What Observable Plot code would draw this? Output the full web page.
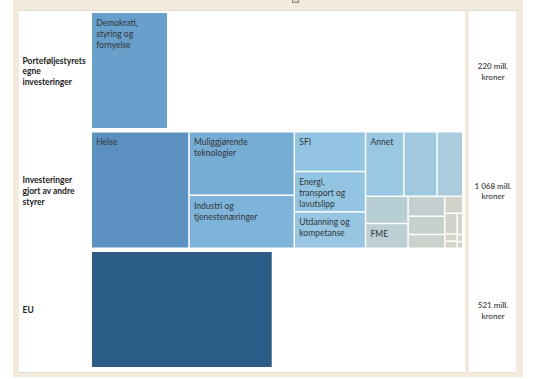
<!DOCTYPE html>
<html>
<head>
<meta charset="utf-8">
<script src="https://cdn.jsdelivr.net/npm/d3@7"></script>
<script src="https://cdn.jsdelivr.net/npm/@observablehq/plot@0.6"></script>
<style>
  html, body { margin: 0; padding: 0; background: #fff; }
  body { width: 536px; height: 379px; overflow: hidden; position: relative; font-family: Lato, sans-serif; }
  #frame { position: absolute; left: 13px; top: 0; width: 510px; height: 377px; background: #f2ebdb; }
  #main { position: absolute; left: 19px; top: 10px; width: 446px; height: 361px; background: #fff; border-top: 1px solid #e2ddd3; box-shadow: 0 1px 0 #e4dfd5; }
  #side { position: absolute; left: 469px; top: 10px; width: 47px; height: 361px; background: #fff; border-top: 1px solid #e2ddd3; box-shadow: 0 1px 0 #e4dfd5; }
  #handle { position: absolute; left: 292px; top: -2px; width: 5px; height: 3px; border: 1px solid #8f8a82; background: #d9d3c7; }
  #chart { position: absolute; left: 0; top: 0; }
</style>
</head>
<body>
<div id="frame"></div>
<div id="main"></div>
<div id="side"></div>
<div id="handle"></div>
<div id="chart"></div>
<script>
// ---- data ----
const rowLabels = ["Porteføljestyrets\negne\ninvesteringer", "Investeringer\ngjort av andre\nstyrer", "EU"];
const rowTotals = [220, 1068, 521];

const cellRows = [0,
  1, 1, 1, 1, 1, 1, 1, 1, 1, 1, 1, 1, 1, 1, 1, 1, 1, 1, 1, 1, 1,
  2];
const cellLabels = ["Demokrati,\nstyring og\nfornyelse",
  "Helse", "Muliggjørende\nteknologier", "Industri og\ntjenestenæringer",
  "SFI", "Energi,\ntransport og\nlavutslipp", "Utdanning og\nkompetanse",
  "Annet", "", "",
  "", "FME",
  "", "", "",
  "", "", "", "", "", "", "",
  ""];
// nesting of the treemap cells (group path inside each row)
const cellGroups = ["",
  "", "a", "a",
  "b", "b", "b",
  "c/top", "c/top", "c/top",
  "c/bot/k1", "c/bot/k1",
  "c/bot/k2", "c/bot/k2", "c/bot/k2",
  "c/bot/k3", "c/bot/k3/m/n1", "c/bot/k3/m/n1", "c/bot/k3/m/n1", "c/bot/k3/m/n2", "c/bot/k3/m/n2", "c/bot/k3/m/n2",
  ""];
const cellValues = [220,
  281, 165, 138,
  70, 71, 64,
  61, 53, 41,
  28.5, 26,
  18, 16.5, 12.5,
  7.5, 6.4, 2.2, 2.2, 2.9, 1, 0.9,
  521];

// ---- layout (treemap per row) ----
const band = 116.5 / 119.5;
const nf = d3.formatLocale({decimal: ",", thousands: "\u00a0", grouping: [3], currency: ["", ""]}).format(",");

function layoutRow(r) {
  const nodes = [{id: "root"}];
  const seen = new Set();
  cellRows.forEach((row, i) => {
    if (row !== r) return;
    let parent = "root";
    const parts = cellGroups[i] ? cellGroups[i].split("/") : [];
    parts.forEach(p => {
      const id = parent + "/" + p;
      if (!seen.has(id)) { seen.add(id); nodes.push({id, parent}); }
      parent = id;
    });
    nodes.push({id: parent + "/#" + i, parent, i});
  });
  const root = d3.stratify().id(d => d.id).parentId(d => d.parent)(nodes)
    .sum(d => d.i !== undefined ? cellValues[d.i] : 0);
  d3.treemap().tile(d3.treemapSliceDice).size([rowTotals[r], 1]).round(false)(root);
  return root.leaves().map(l => ({
    row: r,
    label: cellLabels[l.data.i],
    value: cellValues[l.data.i],
    x0: l.x0, x1: l.x1,
    y0: r + l.y0 * band, y1: r + l.y1 * band
  }));
}
const cells = rowTotals.flatMap((_, r) => layoutRow(r));

const chart = Plot.plot({
  width: 536,
  height: 379,
  marginLeft: 91.25,
  marginRight: 73.25,
  marginTop: 12.25,
  marginBottom: 11.25,
  style: {background: "transparent", fontFamily: "Lato, sans-serif", overflow: "visible"},
  x: {domain: [0, 1068], axis: null},
  y: {domain: [0, 2 + band], reverse: true, axis: null},
  color: {
    type: "linear",
    domain: [0, 20, 45, 70, 150, 281, 521],
    range: ["#d6d4c6", "#c2d0d0", "#a6cbdf", "#93c5e3", "#7ab1d8", "#5b90c0", "#2c5c88"]
  },
  marks: [
    Plot.rect(cells, {x1: "x0", x2: "x1", y1: "y0", y2: "y1", fill: "value", inset: 0.75}),
    Plot.text(cells.filter(d => d.label), {
      x: "x0", y: "y0", text: "label", textAnchor: "start", lineAnchor: "top",
      dx: 4.5, dy: 5, fontSize: 8.5, lineHeight: 1.3, fill: "#2f3438"
    }),
    Plot.text(rowLabels, {
      frameAnchor: "left", y: (d, i) => i + band / 2, text: d => d,
      textAnchor: "start", dx: 22 - 91.25, fontSize: 8.5, fontWeight: 700, lineHeight: 1.28, fill: "#222"
    }),
    Plot.text(rowTotals, {
      frameAnchor: "right", y: (d, i) => i + band / 2, text: d => nf(d) + " mill.\nkroner",
      textAnchor: "middle", dx: 492.5 - 462.75, fontSize: 8, fontWeight: 600, lineHeight: 1.3, fill: "#444"
    })
  ]
});
document.getElementById("chart").appendChild(chart);
</script>
</body>
</html>
